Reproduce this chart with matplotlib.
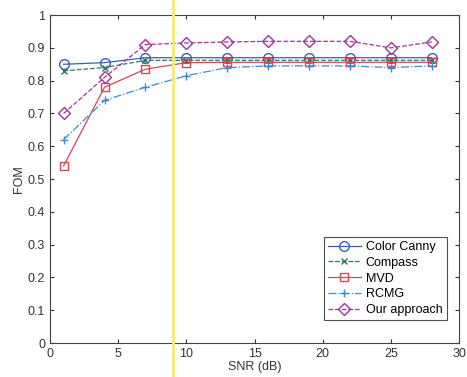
import matplotlib
matplotlib.use("Agg")
import matplotlib.pyplot as plt
from matplotlib.lines import Line2D

snr = [1, 4, 7, 10, 13, 16, 19, 22, 25, 28]
color_canny = [0.850, 0.855, 0.870, 0.870, 0.870, 0.870, 0.870, 0.870, 0.870, 0.870]
compass = [0.830, 0.840, 0.862, 0.862, 0.862, 0.862, 0.862, 0.862, 0.862, 0.862]
mvd = [0.540, 0.780, 0.835, 0.855, 0.856, 0.856, 0.856, 0.856, 0.856, 0.856]
rcmg = [0.620, 0.740, 0.780, 0.815, 0.840, 0.845, 0.845, 0.845, 0.840, 0.845]
ours = [0.700, 0.810, 0.910, 0.915, 0.918, 0.920, 0.920, 0.920, 0.900, 0.918]
labels = ["Color Canny", "Compass", "MVD", "RCMG", "Our approach"]
xticks = [0, 5, 10, 15, 20, 25, 30]
yticks = [0, 0.1, 0.2, 0.3, 0.4, 0.5, 0.6, 0.7, 0.8, 0.9, 1]

plt.rcParams['font.family'] = ['Liberation Sans', 'DejaVu Sans']

fig = plt.figure(figsize=(4.67, 3.77), dpi=100)
ax = fig.add_axes([0.107, 0.090, 0.876, 0.870])

series = [color_canny, compass, mvd, rcmg, ours]
colors = ["#3a5fb8", "#2f7a5e", "#d0485a", "#3a8ccc", "#a2339a"]
markers = ["o", "x", "s", "+", "D"]
msizes = [7, 4, 6, 6, 6]
styles = ["-", "--", "-", "-.", "--"]
for y, c, m, ms, ls, lab in zip(series, colors, markers, msizes, styles, labels):
    ax.plot(snr, y, color=c, marker=m, markersize=ms, markerfacecolor="none",
            markeredgecolor=c, markeredgewidth=1.0, linestyle=ls, linewidth=0.9,
            label=lab)

ax.set_xlim(0, 30)
ax.set_ylim(0, 1)
ax.set_xticks(xticks)
ax.set_xticklabels([str(v) for v in xticks])
ax.set_yticks(yticks)
ax.set_yticklabels(["0", "0.1", "0.2", "0.3", "0.4", "0.5", "0.6", "0.7", "0.8", "0.9", "1"])
ax.tick_params(direction="in", length=3, labelsize=9, colors="#333333", top=True, right=True)
for s in ax.spines.values():
    s.set_color("#444444")
    s.set_linewidth(0.8)
ax.set_xlabel("SNR (dB)", fontsize=9, labelpad=1, color="#333333")
ax.set_ylabel("FOM", fontsize=9, labelpad=2, color="#333333")

leg = ax.legend(loc="lower right", fontsize=9, frameon=True, fancybox=False,
                edgecolor="#222222", borderpad=0.35, handlelength=2.6,
                labelspacing=0.3, handletextpad=0.4, bbox_to_anchor=(0.985, 0.05))
leg.get_frame().set_linewidth(0.8)

# yellow vertical scan line visible in the reference image
fig.add_artist(Line2D([0.370, 0.370], [0, 1], transform=fig.transFigure,
                      color="#f3e97a", linewidth=2.0))

fig.savefig("out.png", dpi=100)
